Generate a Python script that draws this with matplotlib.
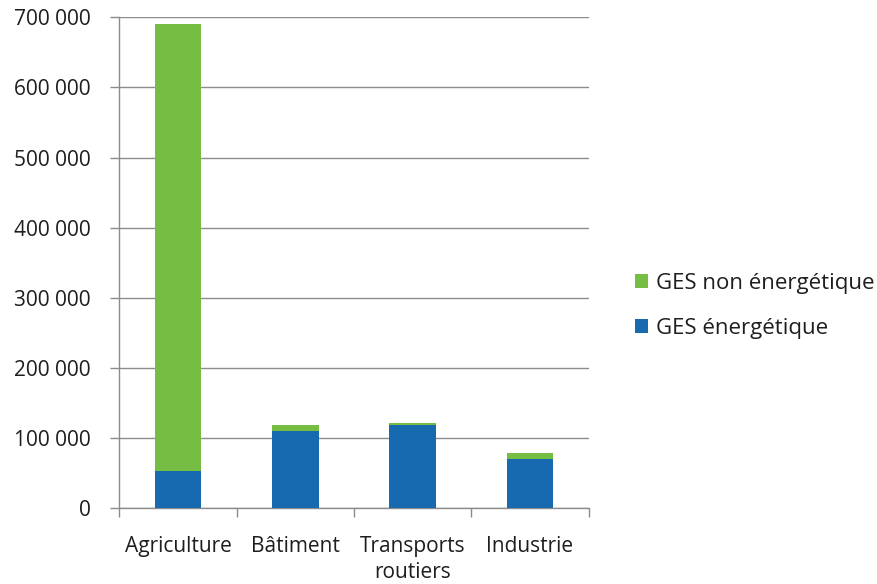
import matplotlib.pyplot as plt
import matplotlib.ticker as mticker
import matplotlib.patches as mpatches
import numpy as np

categories = ['Agriculture', 'Bâtiment', 'Transports\nroutiers', 'Industrie']
ges_energetique = [52400, 109400, 118800, 69500]
ges_non_energetique = [638600, 9400, 2400, 9000]
series_labels = ['GES non énergétique', 'GES énergétique']

blue = '#1769B0'
green = '#76BD43'
grid_col = '#8c8c8c'
text_col = '#1e1e1e'
fs = 15

plt.rcParams['font.family'] = ['Open Sans', 'DejaVu Sans']

fig = plt.figure(figsize=(8.77, 5.84), dpi=100)
ax = fig.add_axes([119.3 / 877, 1 - 508 / 584, (588.7 - 119.3) / 877, (508 - 17.3) / 584])

x = np.arange(len(categories))
ax.bar(x, ges_energetique, width=0.4, color=blue, zorder=3)
ax.bar(x, ges_non_energetique, width=0.4, bottom=ges_energetique, color=green, zorder=3)

ax.set_xlim(-0.5, len(categories) - 0.5)
ax.set_ylim(0, 700000)
ax.yaxis.set_major_locator(mticker.MultipleLocator(100000))
ax.yaxis.set_major_formatter(mticker.FuncFormatter(lambda v, p: f'{int(v):,}'.replace(',', ' ')))
ax.grid(axis='y', color=grid_col, linewidth=1, zorder=0)

# category labels sit between the boundary ticks
ax.set_xticks(x)
ax.set_xticklabels(categories, fontsize=fs, color=text_col, linespacing=1.3)
ax.tick_params(axis='x', length=0, pad=20)
ax.set_xticks(np.arange(-0.5, len(categories)), minor=True)
ax.tick_params(axis='x', which='minor', length=6.5, color=grid_col, width=1)
ax.tick_params(axis='y', length=6.5, color=grid_col, width=1, labelsize=fs, labelcolor=text_col, pad=14)

for s in ['top', 'right']:
    ax.spines[s].set_visible(False)
for s in ['left', 'bottom']:
    ax.spines[s].set_color(grid_col)
    ax.spines[s].set_linewidth(1)

handles = [mpatches.Rectangle((0, 0), 1, 1, facecolor=green),
           mpatches.Rectangle((0, 0), 1, 1, facecolor=blue)]
fig.legend(handles, series_labels, loc='center left', bbox_to_anchor=(615 / 877, 1 - 306 / 584),
           frameon=False, fontsize=16, handlelength=0.6, handleheight=0.6, handletextpad=0.33,
           labelspacing=1.1, labelcolor=text_col)

fig.savefig('out.png', dpi=100)
